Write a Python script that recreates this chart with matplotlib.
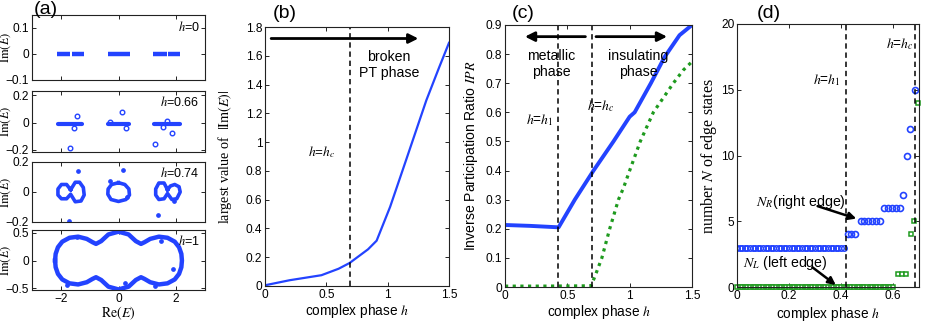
import matplotlib
matplotlib.use('Agg')
import matplotlib.pyplot as plt

plt.rcParams['font.family'] = ['Liberation Sans', 'DejaVu Sans']
plt.rcParams['mathtext.fontset'] = 'stix'
plt.rcParams['font.size'] = 8.5
plt.rcParams['axes.linewidth'] = 0.8

BLUE = '#2343ff'
GREEN = '#1e9a1e'
SERIF = ['Liberation Serif', 'DejaVu Serif']

# ---------------- data ----------------
# (a) spectra, h = 0 : Re(E) intervals on the real axis
a0_bands = [(-2.14, -1.67), (-1.62, -1.21), (-0.37, 0.40), (1.21, 1.67), (1.71, 2.15)]
# (a) h = 0.66
a1_bands = [(-2.1, -1.25), (-0.37, 0.35), (1.22, 2.12)]
a1_band_im = -0.01
a1_re = [-1.69, -1.43, -1.55, 0.11, -0.28, 0.26, 1.28, 1.67, 1.84, 1.53]
a1_im = [-0.184, 0.047, -0.038, 0.08, 0.003, -0.04, -0.156, 0.01, -0.073, -0.036]
# (a) h = 0.74 loops
a2_left_re = [-1.66, -1.8, -1.98, -2.1, -2.1, -1.98, -1.8, -1.66, -1.5, -1.3, -1.19, -1.22, -1.35, -1.5, -1.66]
a2_left_im = [0.015, 0.05, 0.05, 0.02, -0.02, -0.045, -0.045, -0.015, -0.065, -0.06, -0.02, 0.03, 0.065, 0.065, 0.015]
a2_mid_re = [0.0, 0.22, 0.36, 0.38, 0.26, 0.0, -0.26, -0.37, -0.36, -0.24, 0.0]
a2_mid_im = [0.062, 0.05, 0.02, -0.02, -0.05, -0.063, -0.05, -0.015, 0.02, 0.05, 0.062]
a2_right_re = [1.7, 1.58, 1.4, 1.29, 1.29, 1.4, 1.58, 1.7, 1.85, 2.02, 2.14, 2.1, 1.95, 1.8, 1.7]
a2_right_im = [0.015, 0.06, 0.06, 0.02, -0.02, -0.05, -0.045, -0.01, -0.05, -0.045, 0.0, 0.035, 0.05, 0.04, 0.015]
a2_re = [-1.40, -1.71, 0.17, -0.28, 1.36, 1.92, 0.28]
a2_im = [0.142, -0.19, 0.149, 0.075, -0.156, -0.063, -0.03]
# (a) h = 1 closed curve
a3_re = [-2.2, -2.18, -2.1, -1.95, -1.7, -1.4, -1.1, -0.9, -0.78, -0.6, -0.35, 0.0, 0.35, 0.6, 0.78, 0.9, 1.1, 1.4, 1.7, 1.95, 2.1, 2.18, 2.2,
         2.18, 2.1, 1.95, 1.7, 1.4, 1.1, 0.9, 0.78, 0.6, 0.35, 0.0, -0.35, -0.6, -0.78, -0.9, -1.1, -1.4, -1.7, -1.95, -2.1, -2.18, -2.2]
a3_im = [0.0, 0.12, 0.24, 0.34, 0.41, 0.43, 0.39, 0.33, 0.3, 0.35, 0.47, 0.52, 0.47, 0.35, 0.3, 0.33, 0.39, 0.43, 0.41, 0.34, 0.24, 0.12, 0.0,
         -0.12, -0.24, -0.34, -0.41, -0.43, -0.39, -0.33, -0.3, -0.35, -0.47, -0.52, -0.47, -0.35, -0.3, -0.33, -0.39, -0.43, -0.41, -0.34, -0.24, -0.12, 0.0]
a3_dot_re = [-1.78, 0.23, 1.89, 1.49, 1.28, -1.45]
a3_dot_im = [-0.44, -0.41, -0.16, 0.36, -0.45, 0.43]

# (b) largest |Im(E)| vs h
b_h = [0, 0.2, 0.46, 0.6, 0.69, 0.84, 0.91, 1.02, 1.15, 1.315, 1.42, 1.5]
b_v = [0.005, 0.04, 0.075, 0.12, 0.16, 0.255, 0.315, 0.55, 0.875, 1.29, 1.52, 1.69]
b_hc = 0.692

# (c) IPR vs h
c_blue_h = [0, 0.2, 0.43, 0.56, 0.71, 0.87, 1.0, 1.04, 1.17, 1.28, 1.4, 1.5]
c_blue_v = [0.213, 0.21, 0.205, 0.3, 0.4, 0.5, 0.585, 0.6, 0.7, 0.79, 0.865, 0.9]
c_green_h = [0, 0.3, 0.69, 0.72, 0.777, 0.84, 0.91, 0.95, 1.0, 1.085, 1.19, 1.35, 1.43, 1.5]
c_green_v = [0.003, 0.003, 0.004, 0.035, 0.1, 0.2, 0.3, 0.34, 0.4, 0.5, 0.6, 0.7, 0.745, 0.774]
c_h1 = 0.427
c_hc = 0.70

# (d) number of edge states
d_grid = [0.00, 0.01, 0.02, 0.03, 0.04, 0.05, 0.06, 0.07, 0.08, 0.09, 0.10, 0.11, 0.12, 0.13, 0.14, 0.15,
          0.16, 0.17, 0.18, 0.19, 0.20, 0.21, 0.22, 0.23, 0.24, 0.25, 0.26, 0.27, 0.28, 0.29, 0.30, 0.31,
          0.32, 0.33, 0.34, 0.35, 0.36, 0.37, 0.38, 0.39, 0.40, 0.41, 0.42, 0.43, 0.44, 0.45, 0.46, 0.47,
          0.48, 0.49, 0.50, 0.51, 0.52, 0.53, 0.54, 0.55, 0.56, 0.57, 0.58, 0.59, 0.60]
dR_low_n = 42          # N_R = 3 for the first 42 grid points
dR_low_val = 3
dR_h = [0.425, 0.44, 0.455, 0.475, 0.49, 0.505, 0.52, 0.535, 0.55, 0.565, 0.58, 0.595, 0.61, 0.625, 0.638, 0.652, 0.667, 0.684]
dR_v = [4, 4, 4, 5, 5, 5, 5, 5, 5, 6, 6, 6, 6, 6, 7, 10, 12, 15]
dL_low_val = 0         # N_L = 0 on the whole grid
dL_h = [0.62, 0.635, 0.65, 0.669, 0.682, 0.697]
dL_v = [1, 1, 1, 4, 5, 14]
d_h1 = 0.418
d_hc = 0.683

# ---------------- figure ----------------
W, H = 926, 323
fig = plt.figure(figsize=(W / 100, H / 100), dpi=100)


def px_axes(left, top, right, bottom):
    return fig.add_axes([left / W, 1 - bottom / H, (right - left) / W, (bottom - top) / H])


def matlab_style(ax):
    ax.tick_params(direction='in', top=True, right=True, length=3, width=0.6, pad=2, labelsize=8.6)
    for s in ax.spines.values():
        s.set_color('#222222')


DASH = (0, (3.5, 2.5))
ARROW = dict(arrowstyle='-|>', color='k', lw=2, mutation_scale=14, shrinkA=0, shrinkB=0)
ARROW_D = dict(arrowstyle='-|>', color='k', lw=1.8, mutation_scale=11, shrinkA=0, shrinkB=0)
TXT = 10.2

# ---- panel (a)
a_boxes = [(32, 15, 205, 80), (32, 91, 205, 152), (32, 162, 205, 222), (32, 230, 205, 290)]
a_axes = [px_axes(*b) for b in a_boxes]
for ax in a_axes:
    matlab_style(ax)
    ax.set_xlim(-3, 3)
    ax.set_xticks([-2, 0, 2])
    ax.set_ylabel(r'$\mathrm{Im}(E)$', fontsize=9)
    ax.yaxis.set_label_coords(-0.108, 0.5)
for ax in a_axes[:3]:
    ax.set_xticklabels([])

ax = a_axes[0]
for lo, hi in a0_bands:
    ax.plot([lo, hi], [0, 0], color=BLUE, lw=3.2, solid_capstyle='butt')
ax.set_ylim(-0.1, 0.15)
ax.set_yticks([-0.1, 0, 0.1])
ax.set_yticklabels(['\u22120.1', '0', '0.1'])
ax.text(0.97, 0.93, r'$h$=0', transform=ax.transAxes, ha='right', va='top', fontsize=9)

ax = a_axes[1]
for lo, hi in a1_bands:
    ax.plot([lo, hi], [a1_band_im, a1_band_im], color=BLUE, lw=3, solid_capstyle='round')
ax.plot(a1_re, a1_im, 'o', ms=3.3, mfc='none', mec=BLUE, mew=1.0)
ax.set_ylim(-0.215, 0.23)
ax.set_yticks([-0.2, 0, 0.2])
ax.set_yticklabels(['\u22120.2', '0', '0.2'])
ax.text(0.97, 0.93, r'$h$=0.66', transform=ax.transAxes, ha='right', va='top', fontsize=9)

ax = a_axes[2]
for xs, ys in [(a2_left_re, a2_left_im), (a2_mid_re, a2_mid_im), (a2_right_re, a2_right_im)]:
    ax.plot(xs, ys, color=BLUE, lw=2.6)
ax.plot(a2_re, a2_im, 'o', ms=2.4, color=BLUE)
ax.set_ylim(-0.2, 0.2)
ax.set_yticks([-0.2, 0, 0.2])
ax.set_yticklabels(['\u22120.2', '0', '0.2'])
ax.text(0.97, 0.93, r'$h$=0.74', transform=ax.transAxes, ha='right', va='top', fontsize=9)

ax = a_axes[3]
ax.plot(a3_re, a3_im, color=BLUE, lw=3.2)
ax.plot(a3_dot_re, a3_dot_im, 'o', ms=2.4, color=BLUE)
ax.set_ylim(-0.53, 0.55)
ax.set_yticks([-0.5, 0, 0.5])
ax.set_yticklabels(['\u22120.5', '0', '0.5'])
ax.set_xticklabels(['\u22122', '0', '2'])
ax.text(0.97, 0.93, r'$h$=1', transform=ax.transAxes, ha='right', va='top', fontsize=9)
ax.set_xlabel(r'$\mathrm{Re}(E)$', fontsize=10, labelpad=0)

fig.text(46 / W, 1 - 10 / H, '(a)', fontsize=14, ha='center', va='center')

# ---- panel (b)
axb = px_axes(265, 27, 449, 286)
matlab_style(axb)
axb.plot(b_h, b_v, color=BLUE, lw=1.6)
axb.axvline(b_hc, color='k', ls=DASH, lw=1.1)
axb.set_xlim(0, 1.5)
axb.set_ylim(0, 1.8)
axb.set_xticks([0, 0.5, 1, 1.5])
axb.set_xticklabels(['0', '0.5', '1', '1.5'])
axb.set_yticks([0, 0.2, 0.4, 0.6, 0.8, 1, 1.2, 1.4, 1.6, 1.8])
axb.set_yticklabels(['0', '0.2', '0.4', '0.6', '0.8', '1', '1.2', '1.4', '1.6', '1.8'])
axb.set_xlabel(r'complex phase $h$', fontsize=9.8, labelpad=1)
axb.set_ylabel(r'largest value of  $|\mathrm{Im}(E)|$', fontsize=10.2, family=SERIF)
axb.yaxis.set_label_coords(-0.168, 0.5)
axb.annotate('', xy=(1.25, 1.72), xytext=(0.05, 1.72), arrowprops=ARROW)
axb.text(1.01, 1.535, 'broken\nPT phase', ha='center', va='center', fontsize=TXT, linespacing=1.2)
axb.text(0.46, 0.93, r'$h$=$h_c$', ha='center', va='center', fontsize=9.6)
fig.text(285 / W, 1 - 13 / H, '(b)', fontsize=14, ha='center', va='center')

# ---- panel (c)
axc = px_axes(505, 25, 692, 287)
matlab_style(axc)
axc.plot(c_blue_h, c_blue_v, color=BLUE, lw=2.8)
axc.plot(c_green_h, c_green_v, color=GREEN, lw=2.3, ls=(0, (1, 1.4)), dash_capstyle='butt')
axc.axvline(c_h1, color='k', ls=DASH, lw=1.1)
axc.axvline(c_hc, color='k', ls=DASH, lw=1.1)
axc.set_xlim(0, 1.5)
axc.set_ylim(0, 0.9)
axc.set_xticks([0, 0.5, 1, 1.5])
axc.set_xticklabels(['0', '0.5', '1', '1.5'])
axc.set_yticks([0, 0.1, 0.2, 0.3, 0.4, 0.5, 0.6, 0.7, 0.8, 0.9])
axc.set_yticklabels(['0', '0.1', '0.2', '0.3', '0.4', '0.5', '0.6', '0.7', '0.8', '0.9'])
axc.set_xlabel(r'complex phase $h$', fontsize=9.8, labelpad=1)
axc.set_ylabel(r'Inverse Participation Ratio $IPR$', fontsize=10.1)
axc.yaxis.set_label_coords(-0.134, 0.5)
axc.annotate('', xy=(0.16, 0.86), xytext=(0.645, 0.86), arrowprops=ARROW)
axc.annotate('', xy=(1.30, 0.86), xytext=(0.73, 0.86), arrowprops=ARROW)
axc.text(0.37, 0.765, 'metallic\nphase', ha='center', va='center', fontsize=TXT, linespacing=1.2)
axc.text(1.07, 0.765, 'insulating\nphase', ha='center', va='center', fontsize=TXT, linespacing=1.2)
axc.text(0.275, 0.573, r'$h$=$h_1$', ha='center', va='center', fontsize=9.8)
axc.text(0.77, 0.62, r'$h$=$h_c$', ha='center', va='center', fontsize=9.8)
fig.text(523 / W, 1 - 14 / H, '(c)', fontsize=14, ha='center', va='center')

# ---- panel (d)
axd = px_axes(737, 24, 919, 287)
matlab_style(axd)
axd.plot(d_grid, [dL_low_val] * len(d_grid), 's', ms=3.4, mfc='white', mec=GREEN, mew=1.1, clip_on=False)
axd.plot(dL_h, dL_v, 's', ms=3.4, mfc='white', mec=GREEN, mew=1.1, clip_on=False)
axd.plot(d_grid[:dR_low_n], [dR_low_val] * dR_low_n, 'o', ms=4.0, mfc='none', mec=BLUE, mew=1.0)
axd.plot(dR_h, dR_v, 'o', ms=4.3, mfc='none', mec=BLUE, mew=1.2)
axd.axvline(d_h1, color='k', ls=DASH, lw=1.1)
axd.axvline(d_hc, color='k', ls=DASH, lw=1.1)
axd.set_xlim(0, 0.7)
axd.set_ylim(0, 20)
axd.set_xticks([0, 0.2, 0.4, 0.6])
axd.set_xticklabels(['0', '0.2', '0.4', '0.6'])
axd.set_yticks([0, 5, 10, 15, 20])
axd.set_xlabel(r'complex phase $h$', fontsize=9.8, labelpad=2)
axd.set_ylabel(r'number $N$ of edge states', fontsize=11.5, family=SERIF)
axd.yaxis.set_label_coords(-0.099, 0.5)
axd.text(0.345, 15.7, r'$h$=$h_1$', ha='center', va='center', fontsize=9.8)
axd.text(0.628, 18.5, r'$h$=$h_c$', ha='center', va='center', fontsize=9.8)
axd.text(0.245, 6.5, r'$N_R$(right edge)', ha='center', va='center', fontsize=TXT)
axd.text(0.185, 1.8, r'$N_L$ (left edge)', ha='center', va='center', fontsize=TXT)
axd.annotate('', xy=(0.459, 5.2), xytext=(0.31, 6.15), arrowprops=ARROW_D)
axd.annotate('', xy=(0.38, 0.15), xytext=(0.29, 1.5), arrowprops=ARROW_D)
fig.text(769 / W, 1 - 14 / H, '(d)', fontsize=14, ha='center', va='center')

fig.savefig('out.png', dpi=100)
